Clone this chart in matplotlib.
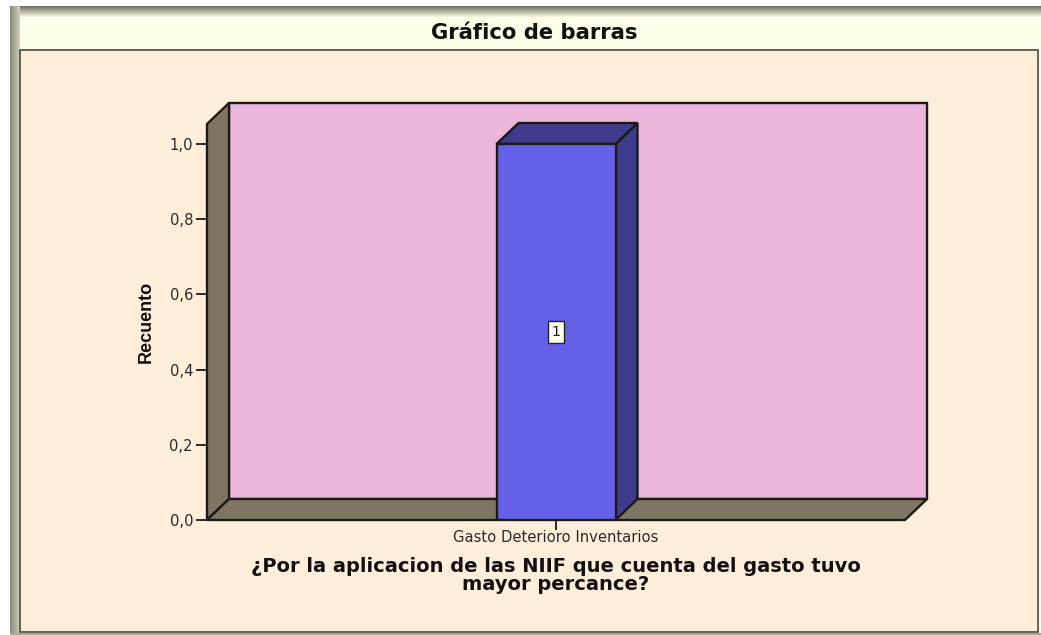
import numpy as np
import matplotlib
matplotlib.use("Agg")
import matplotlib.pyplot as plt
from matplotlib.patches import Polygon, Rectangle

# Data
categories = ["Gasto Deterioro Inventarios"]
counts = [1]
y_ticks = [0.0, 0.2, 0.4, 0.6, 0.8, 1.0]
y_tick_labels = ["0,0", "0,2", "0,4", "0,6", "0,8", "1,0"]
title = "Gráfico de barras"
x_title = "¿Por la aplicacion de las NIIF que cuenta del gasto tuvo\nmayor percance?"
y_title = "Recuento"

W, H = 1041, 635
fig = plt.figure(figsize=(W / 100, H / 100), dpi=100, facecolor="white")

# Window chrome in pixel coordinates
bg = fig.add_axes([0, 0, 1, 1])
bg.axis("off")
bg.add_patch(Rectangle((10, 6), W - 10, H - 6, fc="#fffee8", ec="none", zorder=0))
grad = np.linspace(0, 1, 12)[:, None]
top_band = np.array([0.45, 0.45, 0.40]) * (1 - grad[..., None]) + np.array([1.0, 0.996, 0.91]) * grad[..., None]
bg.imshow(top_band, extent=(10, W, 18, 6), aspect="auto", interpolation="bilinear", zorder=1)
left_band = np.array([0.55, 0.55, 0.48]) * (1 - grad.T[..., None]) + np.array([0.80, 0.80, 0.72]) * grad.T[..., None]
bg.imshow(left_band, extent=(10, 20, H, 6), aspect="auto", interpolation="bilinear", zorder=1)
bg.set_xlim(0, W)
bg.set_ylim(H, 0)
bg.add_patch(Rectangle((20, 49.5), 1018, 582, fc="#feeeda", ec="#4d4a42", lw=1.2, zorder=2))
bg.add_patch(Rectangle((10, 632.5), W - 10, 2.5, fc="#a8a898", ec="none", zorder=2))
bg.text(534.5, 33, title, ha="center", va="center", fontsize=15.2, fontweight="bold",
        family="DejaVu Sans", color="#111111", zorder=3)

# Plot axes: front plane of the 3D box
x0, x1, y_base, y_one, y_front_top = 207, 905, 520, 144, 124
ax = fig.add_axes([x0 / W, 1 - y_base / H, (x1 - x0) / W, (y_base - y_front_top) / H])
ax.patch.set_alpha(0)
ymax = (y_base - y_front_top) / (y_base - y_one)
ax.set_xlim(-0.5, 0.5)
ax.set_ylim(0, ymax)
for s in ax.spines.values():
    s.set_visible(False)

dx = 22 / (x1 - x0)
dy = 21 / (y_base - y_one)
edge = "#1c1a18"
lw = 1.7
wall = "#7f7562"
xl, xr = ax.get_xlim()

ax.add_patch(Polygon([(xl + dx, dy), (xr + dx, dy), (xr + dx, ymax + dy), (xl + dx, ymax + dy)],
                     fc="#ebb5dc", ec=edge, lw=lw, clip_on=False, zorder=1))
ax.add_patch(Polygon([(xl, 0), (xl + dx, dy), (xl + dx, ymax + dy), (xl, ymax)],
                     fc=wall, ec=edge, lw=lw, clip_on=False, zorder=2))
ax.add_patch(Polygon([(xl, 0), (xr, 0), (xr + dx, dy), (xl + dx, dy)],
                     fc=wall, ec=edge, lw=lw, clip_on=False, zorder=2))

# Bars with their depth faces
bar_w = 119 / (x1 - x0)
xs = np.arange(len(categories))
bars = ax.bar(xs, counts, width=bar_w, color="#6461e8", edgecolor=edge, linewidth=lw, zorder=4)
for b, v in zip(bars, counts):
    l, r = b.get_x(), b.get_x() + b.get_width()
    ax.add_patch(Polygon([(r, 0), (r + dx, dy), (r + dx, v + dy), (r, v)],
                         fc="#3e3a8c", ec=edge, lw=lw, clip_on=False, zorder=3))
    ax.add_patch(Polygon([(l, v), (l + dx, v + dy), (r + dx, v + dy), (r, v)],
                         fc="#3e3a8c", ec=edge, lw=lw, clip_on=False, zorder=3))
    ax.text(b.get_x() + b.get_width() / 2, v / 2, str(v), ha="center", va="center",
            fontsize=10, family="DejaVu Sans", color="#111111", zorder=6,
            bbox=dict(boxstyle="square,pad=0.28", fc="#fffff4", ec="#222222", lw=1.0))

ax.set_yticks(y_ticks)
ax.set_yticklabels(y_tick_labels, fontsize=10.6, family="DejaVu Sans", color="#2a2a2a")
ax.set_xticks(xs)
ax.set_xticklabels(categories, fontsize=10.6, family="DejaVu Sans", color="#2a2a2a")
ax.tick_params(axis="y", length=8, width=1.3, color=edge, pad=2)
ax.tick_params(axis="x", length=7, width=1.3, color=edge, pad=0)

bg.text(146, 322, y_title, rotation=90, ha="center", va="center", fontsize=13,
        fontweight="bold", family="Liberation Sans", color="#111111", zorder=3)
bg.text(556, 575.5, x_title, ha="center", va="center", fontsize=14, fontweight="bold",
        family="DejaVu Sans", color="#111111", linespacing=0.92, zorder=3)

fig.savefig("out.png", dpi=100, facecolor="white")
